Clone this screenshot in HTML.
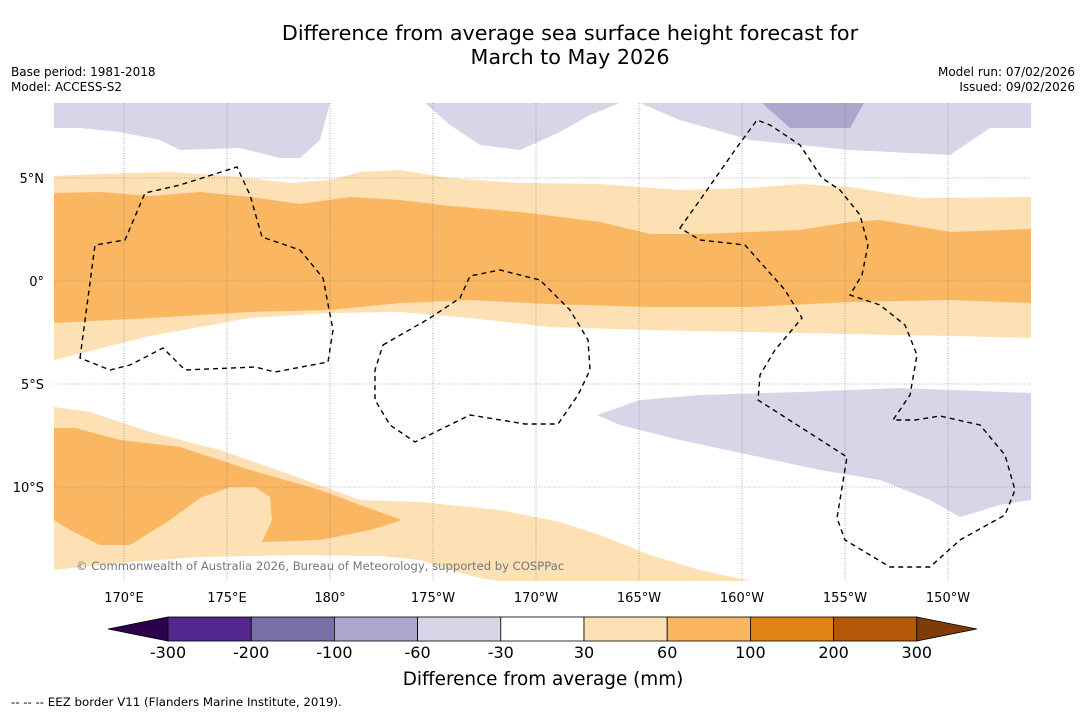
<!DOCTYPE html>
<html><head><meta charset="utf-8"><style>
body{margin:0;background:#fff;font-family:"DejaVu Sans","Liberation Sans",sans-serif}
#wrap{position:relative;width:1085px;height:713px;overflow:hidden;background:#fff}
.t{position:absolute;font-size:12px;color:#000}
svg text{font-family:"DejaVu Sans","Liberation Sans",sans-serif}
</style></head><body>
<div id="wrap">
<div class="t" style="left:0;width:1140px;top:21px;text-align:center;font-size:20.7px;line-height:24px">Difference from average sea surface height forecast for<br>March to May 2026</div>
<div class="t" style="left:11px;top:65px;line-height:15px">Base period: 1981-2018<br>Model: ACCESS-S2</div>
<div class="t" style="right:10px;top:65px;line-height:15px;text-align:right">Model run: 07/02/2026<br>Issued: 09/02/2026</div>
<svg id="svg" width="1085" height="713" style="position:absolute;left:0;top:0">
<g id="map">
<rect x="54" y="103" width="977" height="478" fill="#fff"/>
<polygon fill="#fde0b4" points="54,176 100,174 170,172 230,176 290,183 330,180 360,172 400,170 450,178 520,183 600,184 680,190 750,188 800,184 850,187 920,198 1031,197 1031,338 950,336 850,334 750,332 650,330 550,327 470,318 400,312 330,313 250,318 150,336 54,360"/>
<polygon fill="#fab660" points="54,193 100,192 150,196 200,192 250,197 300,204 350,197 400,200 450,206 520,212 600,222 650,234 700,234 750,232 800,230 850,222 880,220 950,232 1031,229 1031,303 950,300 850,302 750,307 650,307 550,304 470,300 400,303 330,310 250,312 150,318 54,323"/>
<polygon fill="#fde0b4" points="54,407 90,412 150,432 220,450 300,478 360,500 420,502 500,510 560,522 600,535 650,555 700,570 750,581 500,581 480,578 450,570 420,560 380,556 300,555 200,557 130,562 54,570"/>
<polygon fill="#fab660" points="54,428 75,428 120,440 180,447 250,470 320,490 360,505 402,520 370,530 320,540 262,542 272,520 270,497 255,487 230,487 200,498 170,520 130,545 100,545 70,530 54,520"/>
<polygon fill="#d6d6e8" points="54,103 330,103 320,140 300,158 280,158 240,148 180,150 160,140 120,132 80,128 54,128"/>
<polygon fill="#d6d6e8" points="425,103 450,125 480,145 520,150 560,132 590,115 620,103"/>
<polygon fill="#d6d6e8" points="640,103 680,120 750,140 850,150 950,155 990,128 1031,128 1031,103"/>
<polygon fill="#ada7cf" points="762,103 864,103 850,128 790,128"/>
<polygon fill="#d6d6e8" points="597,415 640,400 700,395 800,392 900,388 1031,393 1031,500 1000,505 960,517 930,500 880,480 820,470 750,455 680,440 620,425"/>
<g id="grid" stroke="#777" stroke-width="0.6" stroke-dasharray="1,1.5"></g>
<g fill="none" stroke="#000" stroke-width="1.4" stroke-dasharray="5,4">
<polygon points="80,358 95,245 125,240 145,193 180,185 237,167 250,195 262,237 300,250 323,278 333,330 328,362 275,372 255,367 185,370 163,348 130,365 110,370"/>
<polygon points="383,345 430,318 460,298 470,276 500,270 540,280 570,310 588,340 590,370 578,395 558,424 525,424 470,415 415,442 390,425 375,400 375,370"/>
<polygon points="680,228 700,200 735,150 757,120 770,125 800,145 822,178 840,190 860,215 868,245 862,275 850,295 880,305 905,325 917,355 910,395 893,420 915,420 940,416 980,425 1005,455 1015,490 1005,515 960,540 930,567 890,567 845,540 837,518 847,457 805,430 758,400 760,375 775,350 802,318 785,290 745,245 700,240"/>
</g>
<text x="76" y="570" font-size="11.6" fill="#777">© Commonwealth of Australia 2026, Bureau of Meteorology, supported by COSPPac</text>
</g>
<g id="axes" font-size="13"></g>
<g id="cbar"></g>
<text x="543" y="685" font-size="18.4" text-anchor="middle">Difference from average (mm)</text>
<text x="11" y="706" font-size="11.8">--  --  -- EEZ border V11 (Flanders Marine Institute, 2019).</text>
</svg>
</div>
<script>
const lonLabels=["170°E","175°E","180°","175°W","170°W","165°W","160°W","155°W","150°W"];
const lonValues=[170,175,180,185,190,195,200,205,210];
const latLabels=["5°N","0°","5°S","10°S"];
const latValues=[5,0,-5,-10];
const cbTicks=["-300","-200","-100","-60","-30","30","60","100","200","300"];
const cbColors=["#54278f","#7b6fa8","#ada7cf","#d6d6e8","#ffffff","#fde0b4","#fab660","#e08214","#b35806"];
const cbEnds=["#2d004b","#7f3b08"];
const NS="http://www.w3.org/2000/svg";
const xLon=v=>124+(v-170)*20.6;
const yLat=v=>281-v*20.6;
const grid=document.getElementById('grid'),axes=document.getElementById('axes'),cb=document.getElementById('cbar');
function mk(tag,attrs,parent,txt){const e=document.createElementNS(NS,tag);for(const k in attrs)e.setAttribute(k,attrs[k]);if(txt)e.textContent=txt;parent.appendChild(e);return e;}
lonValues.forEach((v,i)=>{const x=xLon(v);
 const l=mk('line',{x1:x,x2:x,y1:103,y2:581},grid);
 
 
 const t=mk('text',{x:x,y:602,'text-anchor':'middle'},axes,lonLabels[i]);
 
 });
latValues.forEach((v,i)=>{const y=yLat(v);
 const l=mk('line',{x1:54,x2:1031,y1:y,y2:y},grid);
 
 
 const t=mk('text',{x:44,y:y+5,'text-anchor':'end'},axes,latLabels[i]);
 
 });
const x0=168,w=83.2,y0=617,h=24;
const lt=mk('polygon',{points:`108,${y0+h/2} ${x0},${y0} ${x0},${y0+h}`,fill:cbEnds[0],stroke:'#000','stroke-width':0.8},cb);


cbColors.forEach((c,i)=>{const r=mk('rect',{x:x0+i*w,y:y0,width:w,height:h,fill:c,stroke:'#000','stroke-width':0.8},cb);
 
 });
const xe=x0+cbColors.length*w;
const rt=mk('polygon',{points:`${xe},${y0} ${xe+60},${y0+h/2} ${xe},${y0+h}`,fill:cbEnds[1],stroke:'#000','stroke-width':0.8},cb);


cbTicks.forEach((t,i)=>{const e=mk('text',{x:x0+i*w,y:658,'text-anchor':'middle','font-size':16},cb,t);
 
 });
</script>
</body></html>
